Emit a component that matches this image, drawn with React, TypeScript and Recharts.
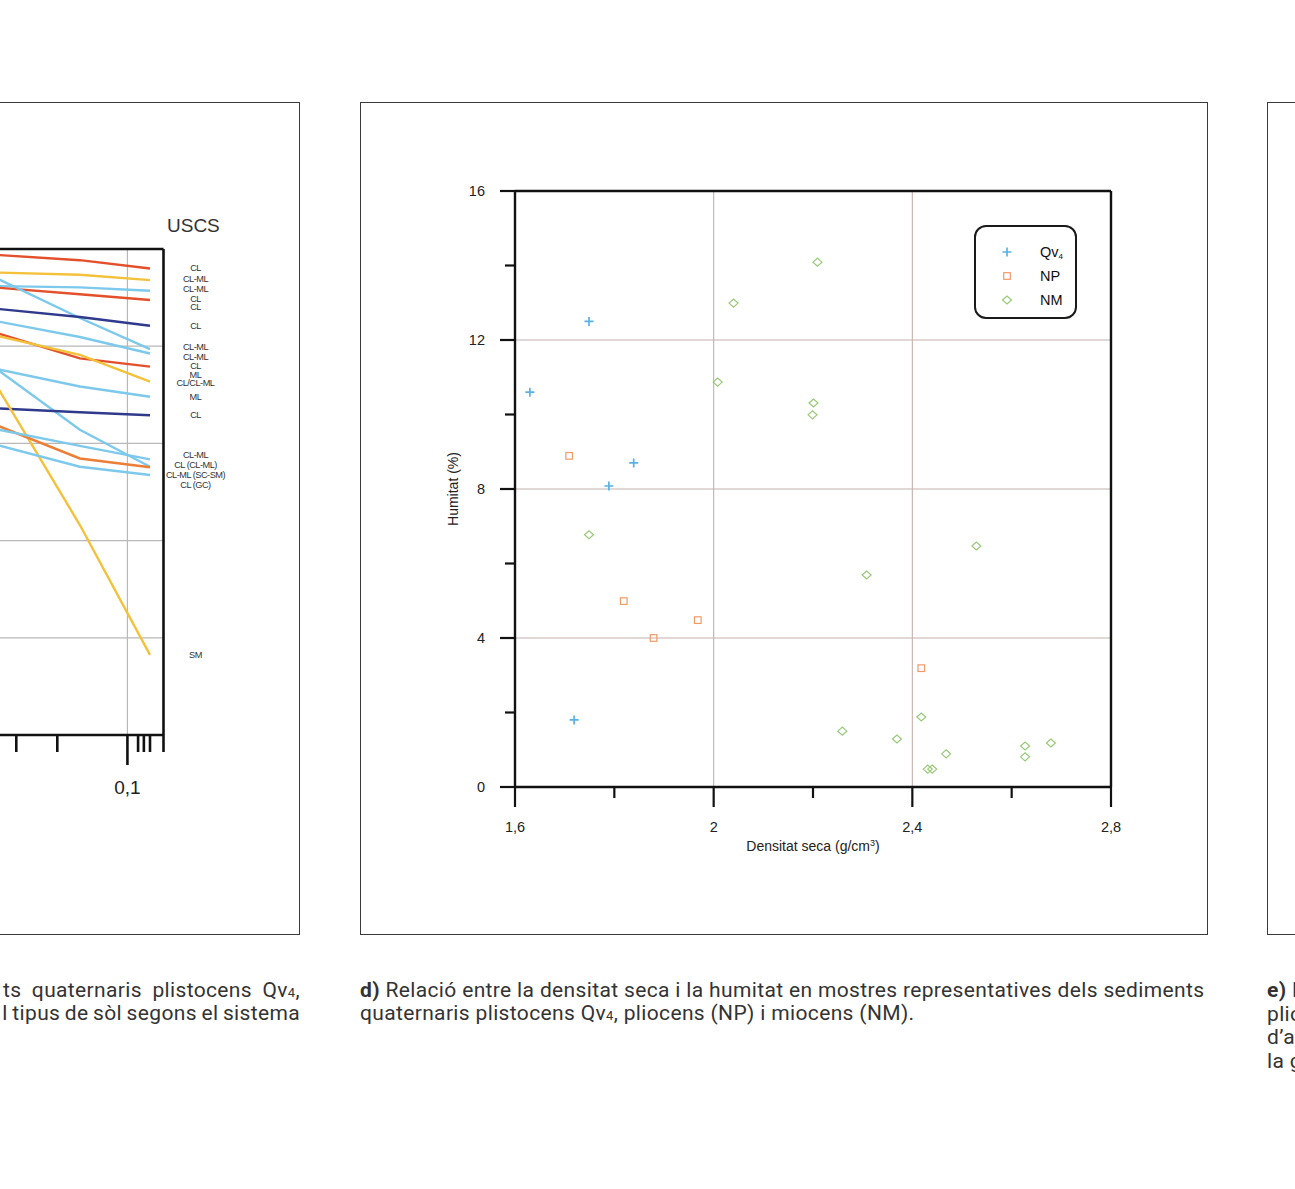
import React from "react";
import {
  ScatterChart,
  Scatter,
  LineChart,
  Line,
  XAxis,
  YAxis,
  CartesianGrid,
  ReferenceLine,
  Legend,
} from "recharts";

// d) densitat seca (g/cm3) vs humitat (%)
const densQv4 = [1.63, 1.749, 1.839, 1.789, 1.719];
const humQv4 = [10.6, 12.5, 8.7, 8.08, 1.8];
const densNP = [1.709, 1.819, 1.879, 1.968, 2.418];
const humNP = [8.89, 4.99, 4.0, 4.48, 3.19];
const densNM = [2.209, 2.04, 2.008, 2.201, 2.199, 1.749, 2.308, 2.529, 2.259, 2.369, 2.418, 2.468, 2.431, 2.44, 2.627, 2.627, 2.679];
const humNM = [14.09, 12.99, 10.87, 10.31, 9.99, 6.77, 5.69, 6.47, 1.5, 1.29, 1.88, 0.89, 0.48, 0.48, 1.1, 0.81, 1.18];

const densTicks = [1.6, 1.8, 2.0, 2.2, 2.4, 2.6, 2.8];
const densMajor = [1.6, 2.0, 2.4, 2.8];
const humTicks = [0, 2, 4, 6, 8, 10, 12, 14, 16];
const humMajor = [0, 4, 8, 12, 16];
const seriesNames = ["Qv4", "NP", "NM"];

// c) corbes granulometriques (tall de la figura anterior)
const sieves = [0.4, 0.16, 0.08];
const m1 = [98.9, 97.7, 96.0];
const m2 = [95.2, 94.7, 93.6];
const m3 = [92.4, 92.1, 91.4];
const m4 = [92.2, 90.7, 89.5];
const m5 = [94.9, 85.8, 79.4];
const m6 = [87.9, 86.0, 84.2];
const m7 = [85.5, 81.9, 78.5];
const m8 = [83.3, 77.5, 75.8];
const m9 = [82.6, 78.2, 72.7];
const m10 = [75.7, 71.7, 69.6];
const m11 = [76.7, 62.8, 55.2];
const m12 = [67.3, 66.4, 65.8];
const m13 = [75.1, 43.2, 16.5];
const m14 = [64.5, 56.9, 55.1];
const m15 = [63.3, 59.5, 56.7];
const m16 = [60.2, 55.2, 53.5];
const curves = [m1, m2, m3, m4, m5, m6, m7, m8, m9, m10, m11, m12, m13, m14, m15, m16];
const curveColors = [
  "#e3502b", "#f3c23a", "#7cc9ec", "#e3502b", "#7cc9ec", "#2f3a8c", "#7cc9ec", "#e3502b",
  "#f3c23a", "#7cc9ec", "#7cc9ec", "#2f3a8c", "#f3c23a", "#ec7e36", "#7cc9ec", "#7cc9ec",
];
const sieveTicks = [0.07, 0.08, 0.085, 0.09, 0.1, 0.2, 0.3];
const uscsLevel = [96.1, 93.8, 91.8, 89.7, 88.1, 84.2, 79.9, 77.8, 75.9, 74.1, 72.4, 69.5, 65.8, 57.6, 55.6, 53.5, 51.4, 16.5];
const uscsText = ["CL", "CL-ML", "CL-ML", "CL", "CL", "CL", "CL-ML", "CL-ML", "CL", "ML", "CL/CL-ML", "ML", "CL", "CL-ML", "CL (CL-ML)", "CL-ML (SC-SM)", "CL (GC)", "SM"];

const qvData = densQv4.map((x, i) => ({ x, y: humQv4[i] }));
const npData = densNP.map((x, i) => ({ x, y: humNP[i] }));
const nmData = densNM.map((x, i) => ({ x, y: humNM[i] }));
const sieveData = sieves.map((d, i) => {
  const row: any = { d };
  curves.forEach((c, k) => (row["m" + (k + 1)] = c[i]));
  return row;
});

const AX = "Liberation Sans, Arial, sans-serif";
const CAP = "Roboto, 'Noto Sans', sans-serif";

const BLUE = "#55b3e6";
const ORANGE = "#f09a66";
const GREEN = "#98c978";

const PlusMark = (p: any) => (
  <path d={`M${p.cx - 4.5},${p.cy}h9M${p.cx},${p.cy - 4.5}v9`} stroke={BLUE} strokeWidth={1.7} fill="none" />
);
const SquareMark = (p: any) => (
  <rect x={p.cx - 3.3} y={p.cy - 3.3} width={6.6} height={6.6} stroke={ORANGE} strokeWidth={1.2} fill="none" />
);
const DiamondMark = (p: any) => (
  <path
    d={`M${p.cx - 4.5},${p.cy}L${p.cx},${p.cy - 4}L${p.cx + 4.5},${p.cy}L${p.cx},${p.cy + 4}Z`}
    stroke={GREEN}
    strokeWidth={1.2}
    fill="none"
  />
);
const legendMarks: Record<string, any> = { Qv4: PlusMark, NP: SquareMark, NM: DiamondMark };

const DensTick = (p: any) => {
  const v = p.payload.value;
  const major = densMajor.some((m) => Math.abs(m - v) < 1e-6);
  return (
    <g>
      <line x1={p.x} x2={p.x} y1={p.y} y2={p.y + (major ? 20 : 11)} stroke="#111" strokeWidth={2.2} />
      {major && (
        <text x={p.x} y={p.y + 45} textAnchor="middle" fontSize={14.5} fill="#222" fontFamily={AX}>
          {String(Number(v.toFixed(1))).replace(".", ",")}
        </text>
      )}
    </g>
  );
};

const HumTick = (p: any) => {
  const v = p.payload.value;
  const major = humMajor.includes(v);
  return (
    <g>
      <line x1={p.x} x2={p.x - (major ? 15 : 10)} y1={p.y} y2={p.y} stroke="#111" strokeWidth={2.2} />
      {major && (
        <text x={p.x - 30} y={p.y + 5} textAnchor="end" fontSize={14.5} fill="#222" fontFamily={AX}>
          {v}
        </text>
      )}
    </g>
  );
};

const SieveTick = (p: any) => {
  const v = p.payload.value;
  const major = Math.abs(v - 0.1) < 1e-9;
  return (
    <g>
      <line x1={p.x} x2={p.x} y1={p.y} y2={p.y + (major ? 30 : 17)} stroke="#111" strokeWidth={2.6} />
      {major && (
        <text x={p.x} y={p.y + 59} textAnchor="middle" fontSize={19} fill="#222" fontFamily={AX}>
          0,1
        </text>
      )}
    </g>
  );
};

const UscsTick = (p: any) => {
  const k = uscsLevel.indexOf(p.payload.value);
  return (
    <text x={p.x + 32} y={p.y + 3} textAnchor="middle" fontSize={9.2} fill="#333" fontFamily={AX} letterSpacing={-0.5}>
      {uscsText[k]}
    </text>
  );
};

const LegendBox = (props: any) => {
  const items = props.payload || [];
  const ordered = seriesNames.map((n) => items.find((it: any) => it.value === n)).filter(Boolean);
  return (
    <div
      style={{
        position: "relative",
        width: 103,
        height: 94,
        boxSizing: "border-box",
        border: "2px solid #1a1a1a",
        borderRadius: 12,
        background: "#fff",
        fontFamily: AX,
        fontSize: 14.5,
        color: "#111",
      }}
    >
      {ordered.map((it: any, i: number) => {
        const Mark = legendMarks[it.value];
        return (
          <div key={it.value} style={{ position: "absolute", left: 0, top: 15 + i * 24, height: 20, width: 100 }}>
            <svg width={20} height={20} style={{ position: "absolute", left: 21, top: 0 }}>
              <Mark cx={10} cy={10} />
            </svg>
            <span style={{ position: "absolute", left: 64, top: 2, lineHeight: "16px" }}>
              {it.value === "Qv4" ? (
                <>
                  Qv<sub style={{ fontSize: 8, verticalAlign: "-2px" }}>4</sub>
                </>
              ) : (
                it.value
              )}
            </span>
          </div>
        );
      })}
    </div>
  );
};

const HumLabel = (p: any) => {
  const vb = p.viewBox;
  const x = vb.x - 2;
  const y = vb.y + vb.height / 2;
  return (
    <text
      x={x}
      y={y}
      transform={`rotate(-90 ${x} ${y})`}
      textAnchor="middle"
      dominantBaseline="central"
      fontSize={14}
      fill="#222"
      fontFamily={AX}
    >
      Humitat (%)
    </text>
  );
};

const DensLabel = (p: any) => {
  const vb = p.viewBox;
  return (
    <text x={vb.x + vb.width / 2} y={vb.y + 64} textAnchor="middle" fontSize={14} fill="#222" fontFamily={AX}>
      Densitat seca (g/cm<tspan fontSize={9} dy={-5}>3</tspan>
      <tspan dy={5}>)</tspan>
    </text>
  );
};

const frame = (left: number, width: number) => ({
  position: "absolute" as const,
  left,
  top: 102,
  width,
  height: 833,
  boxSizing: "border-box" as const,
  border: "1.5px solid #3a3a3a",
});

const capStyle = (left: number, width: number) => ({
  position: "absolute" as const,
  left,
  top: 979,
  width,
  height: 100,
  overflow: "hidden" as const,
  whiteSpace: "nowrap" as const,
  fontFamily: CAP,
  fontSize: 21,
  letterSpacing: 0.35,
  lineHeight: "23px",
  color: "#333",
});

const rightLine = (top: number, wordSpacing: number) => ({
  position: "absolute" as const,
  right: 0,
  top,
  whiteSpace: "nowrap" as const,
  wordSpacing,
});

export default function App() {
  return (
    <div style={{ position: "absolute", left: 0, top: 0, width: 1295, height: 1189, overflow: "hidden", background: "#fff" }}>
      {/* panell c (tallat) */}
      <div style={frame(-20, 320)} />
      <div style={{ position: "absolute", left: 167, top: 215, fontFamily: AX, fontSize: 19, color: "#333" }}>USCS</div>
      <div style={{ position: "absolute", left: -116, top: 200 }}>
        <LineChart width={416} height={620} data={sieveData} margin={{ top: 49, right: 56.5, bottom: 35, left: 10.5 }}>
          <CartesianGrid horizontalValues={[20, 40, 60, 80]} verticalValues={[0.1, 1]} stroke="#b8b8b8" strokeWidth={1.2} />
          <XAxis
            dataKey="d"
            type="number"
            scale="log"
            domain={[0.07, 1]}
            reversed
            allowDataOverflow
            ticks={sieveTicks}
            interval={0}
            tickSize={0}
            tickMargin={0}
            height={50}
            tick={<SieveTick />}
            axisLine={{ stroke: "#111", strokeWidth: 2.6 }}
          />
          <YAxis
            orientation="right"
            type="number"
            domain={[0, 100]}
            ticks={uscsLevel}
            interval={0}
            width={80}
            tickSize={0}
            tickMargin={0}
            tick={<UscsTick />}
            axisLine={{ stroke: "#111", strokeWidth: 2.6 }}
          />
          <ReferenceLine y={100} stroke="#111" strokeWidth={2.6} />
          {curves.map((_, k) => (
            <Line
              key={k}
              dataKey={"m" + (k + 1)}
              type="linear"
              stroke={curveColors[k]}
              strokeWidth={2.4}
              dot={false}
              isAnimationActive={false}
            />
          ))}
        </LineChart>
      </div>
      <div style={capStyle(0, 300)}>
        <span style={rightLine(0, 5)}>
          ts quaternaris plistocens Qv<span style={{ fontSize: 13 }}>4</span>,
        </span>
        <span style={rightLine(23, -1)}>l tipus de sòl segons el sistema</span>
      </div>

      {/* panell d */}
      <div style={frame(360, 848)} />
      <div style={{ position: "absolute", left: 430, top: 160 }}>
        <ScatterChart width={720} height={740} margin={{ top: 31, right: 39, bottom: 63, left: 25 }}>
          <CartesianGrid horizontalValues={[4, 8, 12]} verticalValues={[2, 2.4]} stroke="#c4b1ad" strokeWidth={1.1} />
          <XAxis
            dataKey="x"
            type="number"
            domain={[1.6, 2.8]}
            ticks={densTicks}
            interval={0}
            tickSize={0}
            tickMargin={0}
            height={50}
            tick={<DensTick />}
            axisLine={{ stroke: "#111", strokeWidth: 2.4 }}
            label={{ content: <DensLabel /> }}
          />
          <YAxis
            dataKey="y"
            type="number"
            domain={[0, 16]}
            ticks={humTicks}
            interval={0}
            tickSize={0}
            tickMargin={0}
            width={60}
            tick={<HumTick />}
            axisLine={{ stroke: "#111", strokeWidth: 2.4 }}
            label={{ content: <HumLabel /> }}
          />
          <ReferenceLine y={16} stroke="#111" strokeWidth={2.4} />
          <ReferenceLine x={2.8} stroke="#111" strokeWidth={2.4} />
          <Legend
            layout="horizontal"
            verticalAlign="middle"
            align="center"
            content={<LegendBox />}
            wrapperStyle={{ position: "absolute", left: 544, top: 65, width: 103, height: 94 }}
          />
          <Scatter name="Qv4" data={qvData} fill={BLUE} shape={<PlusMark />} isAnimationActive={false} />
          <Scatter name="NP" data={npData} fill={ORANGE} shape={<SquareMark />} isAnimationActive={false} />
          <Scatter name="NM" data={nmData} fill={GREEN} shape={<DiamondMark />} isAnimationActive={false} />
        </ScatterChart>
      </div>
      <div style={capStyle(360, 860)}>
        <b>d)</b> Relació entre la densitat seca i la humitat en mostres representatives dels sediments
        <br />
        quaternaris plistocens Qv<span style={{ fontSize: 13 }}>4</span>, pliocens (NP) i miocens (NM).
      </div>

      {/* panell e (tallat) */}
      <div style={frame(1267, 60)} />
      <div style={{ ...capStyle(1267, 28), lineHeight: "23.7px" }}>
        <b>e)</b> Relació
        <br />
        pliocens
        <br />
        d’aigua
        <br />
        la granulometria
      </div>
    </div>
  );
}
